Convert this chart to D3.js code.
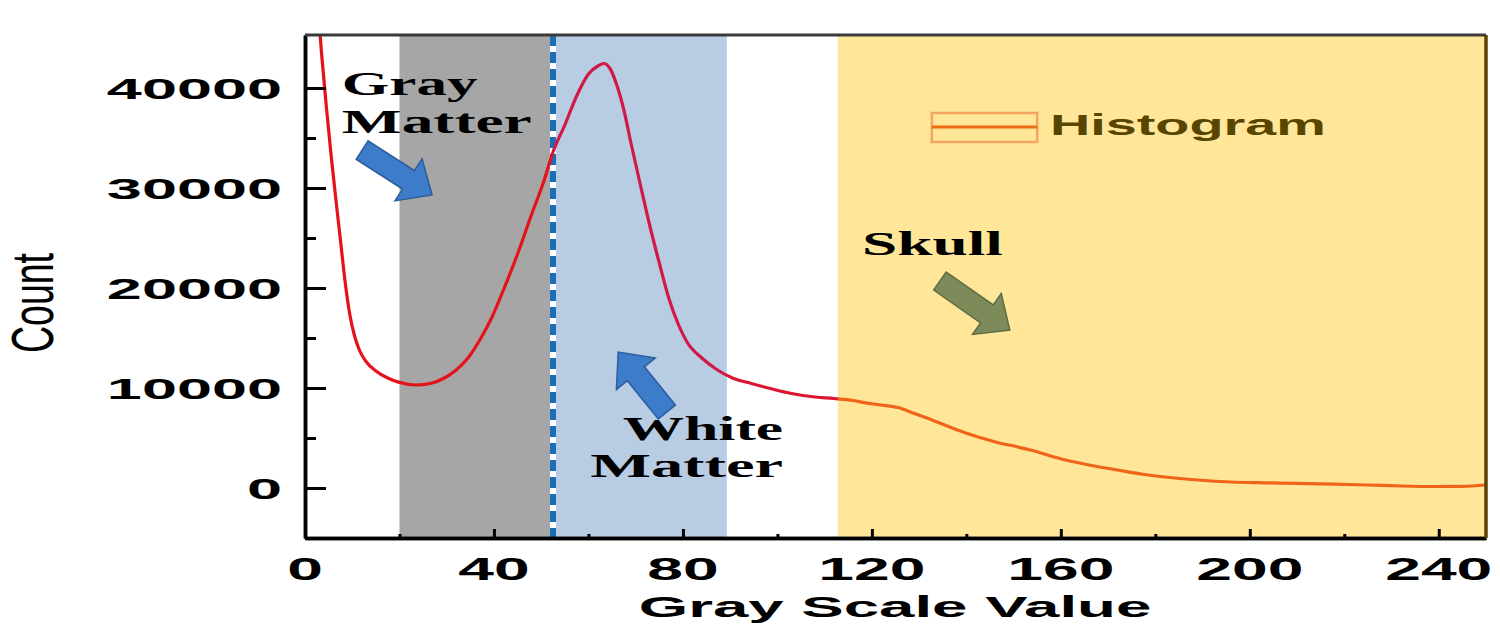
<!DOCTYPE html>
<html lang="en">
<head>
<meta charset="utf-8">
<title>Gray Scale Histogram</title>
<script src="https://d3js.org/d3.v7.min.js"></script>
<style>
  body { margin: 0; background: #fff; }
</style>
</head>
<body>
<script>
// histogram curve
var grayVals = [1.5, 2.5, 3.5, 4.5, 5.5, 6.5, 7.5, 8.5, 9.5, 10.5, 11.5, 13, 15, 17.5, 20, 23.5, 26.5, 29.5, 32, 34.5,
  37, 39.5, 42, 45, 48, 50.5, 52.5, 55, 57.5, 60, 62, 63.3, 64.5, 66, 67.5, 69, 71, 73, 75, 77,
  79, 81, 84, 87, 90.5, 94.5, 98.5, 103, 108, 112, 116, 119, 122, 125.5, 129, 133, 137, 140, 144, 147,
  150.5, 154, 157.5, 161, 166, 172, 177, 182, 189, 196, 203, 210, 218, 225, 232, 239, 245, 250];
var countVals = [56000, 49500, 43500, 38200, 33400, 29000, 24800, 20600, 17300, 15200, 13800, 12600, 11700, 11000, 10560, 10300, 10450, 11000, 11800, 13000,
  14800, 17000, 19800, 23400, 27400, 30600, 33600, 36300, 39200, 41400, 42200, 42450, 42000, 40300, 37800, 34500, 30300, 26200, 22500, 19000,
  16400, 14500, 13000, 11900, 11000, 10450, 9950, 9450, 9100, 8950, 8750, 8480, 8300, 8050, 7450, 6750, 6000, 5480, 4900, 4500,
  4150, 3750, 3250, 2800, 2300, 1800, 1400, 1100, 800, 600, 520, 470, 380, 300, 200, 150, 170, 300];

// shaded ranges on the gray scale
var bandNames = ["gray", "white", "skull"];
var bandStart = [20, 52.6, 112.8];
var bandEnd = [52.1, 89.3, 250];
var thresholdVal = 52.5;

var xTicks = [0, 40, 80, 120, 160, 200, 240];
var xMinor = [20, 60, 100, 140, 180, 220];
var yTicks = [0, 10000, 20000, 30000, 40000];
var yMinor = [-5000, 5000, 15000, 25000, 35000];

var w = 1500, h = 633;
var x = d3.scaleLinear().domain([0, 250]).range([305, 1486]);
var y = d3.scaleLinear().domain([-5000, 45300]).range([538, 35]);

var bandColor = d3.scaleOrdinal().domain(bandNames).range(["#a6a6a6", "#b8cce4", "#ffe699"]);

var sans = "'Liberation Sans', Arial, sans-serif";
var serif = "'Liberation Serif', 'Times New Roman', serif";

var svg = d3.select("body").append("svg").attr("width", w).attr("height", h);
var defs = svg.append("defs");

defs.append("clipPath").attr("id", "plot")
  .append("rect")
  .attr("x", x(0)).attr("y", y(45300))
  .attr("width", x(250) - x(0)).attr("height", y(-5000) - y(45300));

// bands
svg.selectAll("rect.band")
  .data(bandNames)
  .enter()
  .append("rect")
  .attr("class", "band")
  .attr("x", (d, i) => x(bandStart[i]))
  .attr("y", y(45300))
  .attr("width", (d, i) => x(bandEnd[i]) - x(bandStart[i]))
  .attr("height", y(-5000) - y(45300))
  .attr("fill", d => bandColor(d));

// dashed threshold line
svg.append("line")
  .attr("x1", x(thresholdVal)).attr("x2", x(thresholdVal))
  .attr("y1", y(45300)).attr("y2", y(-5000))
  .attr("stroke", "#fff").attr("stroke-width", 6);
svg.append("line")
  .attr("x1", x(thresholdVal)).attr("x2", x(thresholdVal))
  .attr("y1", y(45300)).attr("y2", y(-5000))
  .attr("stroke", "#1b6db5").attr("stroke-width", 6)
  .attr("stroke-dasharray", "11,6");

// line colour changes with the band it crosses
var grad = defs.append("linearGradient").attr("id", "lineGrad")
  .attr("gradientUnits", "userSpaceOnUse")
  .attr("x1", x(0)).attr("x2", x(250)).attr("y1", 0).attr("y2", 0);
var stops = [[0, "#e3121b"], [thresholdVal, "#e3121b"], [thresholdVal, "#d01a45"], [89.3, "#d01a45"],
  [89.3, "#db1630"], [112.8, "#db1630"], [112.8, "#f0641a"], [250, "#f0641a"]];
stops.forEach(function (s) {
  grad.append("stop").attr("offset", s[0] / 250).attr("stop-color", s[1]);
});

var line = d3.line()
  .x((d, i) => x(grayVals[i]))
  .y(d => y(d))
  .curve(d3.curveMonotoneX);

svg.append("path")
  .attr("clip-path", "url(#plot)")
  .attr("d", line(countVals))
  .attr("fill", "none")
  .attr("stroke", "url(#lineGrad)")
  .attr("stroke-width", 3.2);

// axes, ticks point inward
function styleAxis(g, wdt) {
  g.selectAll("path.domain").attr("stroke", "#000").attr("stroke-width", 3.5);
  g.selectAll(".tick line").attr("stroke", "#000").attr("stroke-width", wdt);
}
svg.append("g").attr("transform", "translate(" + x(0) + ",0)")
  .call(d3.axisLeft(y).tickValues(yMinor).tickSize(-11).tickSizeOuter(0).tickFormat(""))
  .call(g => styleAxis(g, 3));
svg.append("g").attr("transform", "translate(" + x(0) + ",0)")
  .call(d3.axisLeft(y).tickValues(yTicks).tickSize(-21).tickSizeOuter(0).tickFormat(""))
  .call(g => styleAxis(g, 3));
svg.append("g").attr("transform", "translate(0," + y(-5000) + ")")
  .call(d3.axisBottom(x).tickValues(xMinor).tickSize(-4).tickSizeOuter(0).tickFormat(""))
  .call(g => styleAxis(g, 3));
svg.append("g").attr("transform", "translate(0," + y(-5000) + ")")
  .call(d3.axisBottom(x).tickValues(xTicks).tickSize(-9).tickSizeOuter(0).tickFormat(""))
  .call(g => styleAxis(g, 3));

// top and right frame
svg.append("line")
  .attr("x1", x(0)).attr("x2", x(250)).attr("y1", y(45300)).attr("y2", y(45300))
  .attr("stroke", "#3a3a3a").attr("stroke-width", 3);
svg.append("line")
  .attr("x1", x(250)).attr("x2", x(250)).attr("y1", y(45300)).attr("y2", y(-5000))
  .attr("stroke", "#5a4300").attr("stroke-width", 3.5);

// stretched text helper (the picture is wide, so glyphs are too)
function stext(px, py, str, opt) {
  return svg.append("text")
    .attr("transform", "translate(" + px + "," + py + ") scale(" + opt.sx + "," + (opt.sy || 1) + ")")
    .attr("text-anchor", opt.anchor || "middle")
    .style("font-family", opt.family || sans)
    .style("font-weight", opt.weight || "bold")
    .style("font-size", opt.size + "px")
    .attr("fill", opt.fill || "#000")
    .text(str);
}

yTicks.forEach(function (v) {
  stext(282, y(v) + 11, v, { sx: 2.1, size: 30, anchor: "end" });
});
xTicks.forEach(function (v) {
  stext(x(v), 580, v, { sx: 2.07, size: 31 });
});
stext(895, 617, "Gray Scale Value", { sx: 2.12, size: 30 });

svg.append("text")
  .attr("transform", "translate(53,303) rotate(-90) scale(1.25,1.95)")
  .attr("text-anchor", "middle")
  .style("font-family", sans)
  .style("font-size", "30px")
  .attr("fill", "#000")
  .text("Count");

// annotations
stext(x(7.8), y(39300), "Gray", { sx: 1.85, size: 33, anchor: "start", family: serif });
stext(x(7.8), y(35500), "Matter", { sx: 1.92, size: 33, anchor: "start", family: serif });
stext(x(101.2), y(4800), "White", { sx: 1.86, size: 33, anchor: "end", family: serif });
stext(x(101.2), y(1100), "Matter", { sx: 1.95, size: 33, anchor: "end", family: serif });
stext(x(117.9), y(23300), "Skull", { sx: 1.92, size: 33, anchor: "start", family: serif });

var arrowFrom = [[12.1, 33800], [76.6, 7600], [134.4, 20700]];
var arrowTo = [[26.9, 29300], [66.3, 13600], [149.2, 15800]];
var arrowFill = ["#3d7cc9", "#3d7cc9", "#7d8b5b"];
var arrowEdge = ["#2b5d9e", "#2b5d9e", "#5f6b42"];

function arrowPts(a, b, sw, hw, hl) {
  var x0 = x(a[0]), y0 = y(a[1]), x1 = x(b[0]), y1 = y(b[1]);
  var len = Math.hypot(x1 - x0, y1 - y0);
  var ux = (x1 - x0) / len, uy = (y1 - y0) / len, nx = -uy, ny = ux;
  var bx = x1 - ux * hl, by = y1 - uy * hl;
  return [[x0 + nx * sw / 2, y0 + ny * sw / 2], [bx + nx * sw / 2, by + ny * sw / 2],
    [bx + nx * hw / 2, by + ny * hw / 2], [x1, y1],
    [bx - nx * hw / 2, by - ny * hw / 2], [bx - nx * sw / 2, by - ny * sw / 2],
    [x0 - nx * sw / 2, y0 - ny * sw / 2]];
}

svg.selectAll("polygon.arrow")
  .data(arrowFrom)
  .enter()
  .append("polygon")
  .attr("class", "arrow")
  .attr("points", (d, i) => arrowPts(d, arrowTo[i], 22, 50, 28).map(p => p.join(",")).join(" "))
  .attr("fill", (d, i) => arrowFill[i])
  .attr("stroke", (d, i) => arrowEdge[i])
  .attr("stroke-width", 1.5);

// legend
var lg = svg.append("g");
lg.append("rect")
  .attr("x", x(132.7)).attr("y", 113)
  .attr("width", x(155) - x(132.7)).attr("height", 29)
  .attr("fill", "none").attr("stroke", "#f5a562").attr("stroke-width", 2.5);
lg.append("line")
  .attr("x1", x(132.7)).attr("x2", x(155)).attr("y1", 127).attr("y2", 127)
  .attr("stroke", "#ec6a12").attr("stroke-width", 3);
stext(x(157.7), 135, "Histogram", { sx: 1.86, size: 30, anchor: "start", fill: "#584600" });
</script>
</body>
</html>
